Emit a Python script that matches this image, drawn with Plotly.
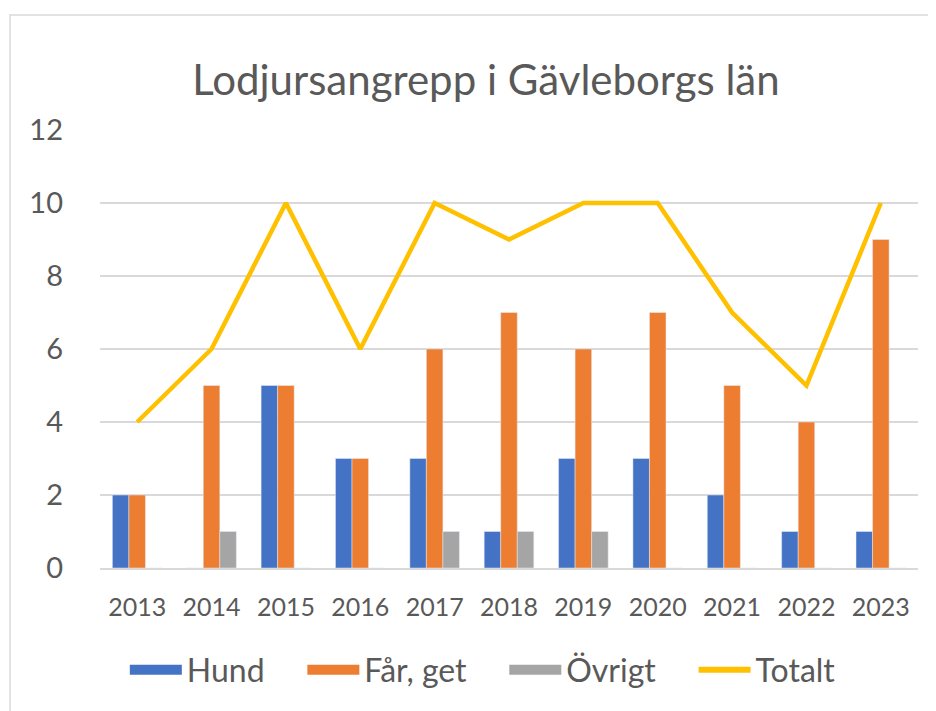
import plotly.graph_objects as go

years = ["2013", "2014", "2015", "2016", "2017", "2018", "2019", "2020", "2021", "2022", "2023"]
hund = [2, 0, 5, 3, 3, 1, 3, 3, 2, 1, 1]
far_get = [2, 5, 5, 3, 6, 7, 6, 7, 5, 4, 9]
ovrigt = [0, 1, 0, 0, 1, 1, 1, 0, 0, 0, 0]
totalt = [4, 6, 10, 6, 10, 9, 10, 10, 7, 5, 10]

series_names = ["Hund", "Får, get", "Övrigt", "Totalt"]
colors = ["#4472C4", "#ED7D31", "#A5A5A5", "#FFC000"]

FONT = "Lato"
TXT = "#595959"
PAD = "\u00a0" * 4

fig = go.Figure()
for vals, name, col in zip([hund, far_get, ovrigt], series_names[:3], colors[:3]):
    fig.add_trace(go.Bar(x=years, y=vals, name=name, marker_color=col,
                         showlegend=False, legendgroup=name))
fig.add_trace(go.Scatter(x=years, y=totalt, name="Totalt", mode="lines",
                         line=dict(color=colors[3], width=4.5), showlegend=False,
                         legendgroup="Totalt"))

# legend entries (wide swatches like the original)
for name, col in zip(series_names, colors):
    w = 6 if name == "Totalt" else 18
    label = name if name == "Totalt" else name + PAD
    fig.add_trace(go.Scatter(x=[None], y=[None], name=label, mode="lines",
                             line=dict(color=col, width=w), legendgroup=name,
                             showlegend=True))

fig.update_layout(
    width=928, height=703,
    margin=dict(l=92, r=18, t=122, b=143, autoexpand=False),
    paper_bgcolor="white", plot_bgcolor="white",
    barmode="group", bargap=0.333, bargroupgap=0,
    font=dict(family=FONT, color=TXT),
    title=dict(text="Lodjursangrepp i Gävleborgs län", x=0.515, xanchor="center",
               y=1 - 72 / 703, yanchor="middle", yref="container",
               font=dict(size=42, color=TXT, family=FONT)),
    legend=dict(orientation="h", x=0.468, xanchor="center", y=-0.233, yanchor="middle",
                font=dict(size=32, color=TXT, family=FONT), itemwidth=52,
                traceorder="normal"),
    shapes=[dict(type="rect", xref="paper", yref="paper",
                 x0=-0.110, x1=1.04, y0=-0.36, y1=1.2626,
                 line=dict(color="#D9D9D9", width=1.5), fillcolor="rgba(0,0,0,0)",
                 layer="below")],
)
fig.update_xaxes(showgrid=False, showline=True, linecolor="#D9D9D9", linewidth=1.5,
                 ticks="", tickfont=dict(size=25, color=TXT, family=FONT),
                 ticklabelstandoff=16, automargin=False)
fig.update_yaxes(range=[0, 12], dtick=2, showgrid=True, gridcolor="#D9D9D9", gridwidth=1.5,
                 zeroline=False, showline=False, ticks="",
                 tickfont=dict(size=29, color=TXT, family=FONT),
                 ticklabelstandoff=36, automargin=False)

fig.write_html("out.html")
